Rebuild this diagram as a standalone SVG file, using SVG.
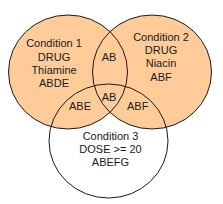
<svg xmlns="http://www.w3.org/2000/svg" width="223" height="204" viewBox="0 0 223 204">
<style>
.fill{fill:#FFCC99;stroke:none}
.white{fill:#FFFFFF;stroke:none}
.ring{fill:none;stroke:#1a1a1a;stroke-width:1}
text{font-family:"Liberation Sans",Arial,sans-serif;font-size:11px;fill:#1a1a1a;text-anchor:middle}
</style>
<rect width="223" height="204" fill="#FFFFFF"/>
<g id="fills">
<ellipse class="white" cx="108.5" cy="141" rx="59.5" ry="57"/>
<ellipse class="fill" cx="68" cy="72" rx="59.5" ry="57"/>
<ellipse class="fill" cx="152" cy="72" rx="59.5" ry="57"/>
</g>
<g id="condition1">
<ellipse class="ring" cx="68" cy="72" rx="59.5" ry="57"/>
<text x="54" y="47.3">Condition 1</text>
<text x="54" y="60.7">DRUG</text>
<text x="54" y="74">Thiamine</text>
<text x="54" y="87.3">ABDE</text>
</g>
<g id="condition2">
<ellipse class="ring" cx="152" cy="72" rx="59.5" ry="57"/>
<text x="161" y="40.7">Condition 2</text>
<text x="161" y="54">DRUG</text>
<text x="161" y="67.3">Niacin</text>
<text x="161" y="80.7">ABF</text>
</g>
<g id="condition3">
<ellipse class="ring" cx="108.5" cy="141" rx="59.5" ry="57"/>
<text x="110.5" y="139.5">Condition 3</text>
<text x="110.5" y="152.8">DOSE &gt;= 20</text>
<text x="110.5" y="166.1">ABEFG</text>
</g>
<g id="intersections">
<text x="109" y="61">AB</text>
<text x="109" y="100.7">AB</text>
<text x="80" y="110">ABE</text>
<text x="137.7" y="110">ABF</text>
</g>
<g id="connectors"></g>
</svg>
